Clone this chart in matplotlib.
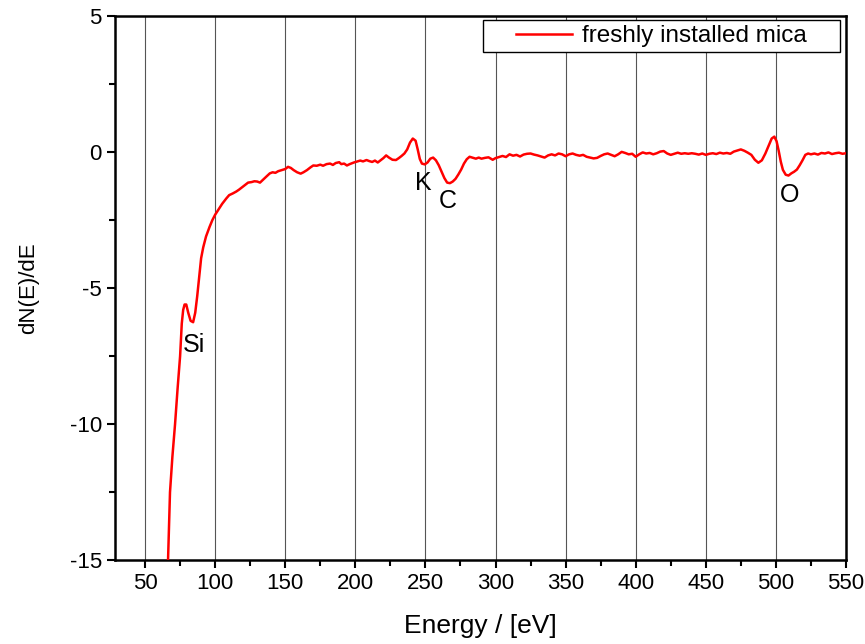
import matplotlib
matplotlib.use('Agg')
import matplotlib.pyplot as plt
from matplotlib.patches import Rectangle
from matplotlib.ticker import MultipleLocator

# spectrum (energy in eV, dN(E)/dE)
energy = [65, 66.4, 67.8, 69.5, 71.4, 73.2, 75, 76.2, 77.2, 78.2, 79.4, 80.8, 82.5, 84.3, 85.8,
          87.2, 88.6, 90.0, 91.5, 93.5, 96, 98, 100, 102.5, 105, 108, 110, 112.5, 115, 117,
          119, 121, 123.5, 126, 128, 130, 132, 134, 136.5, 139, 141, 143, 145, 147.5, 150,
          152, 154, 156, 158.5, 161, 163, 165.5, 168, 170, 172.5, 175, 177, 179.5, 182, 184,
          186, 188.5, 190, 192, 194, 196, 199, 201.5, 203.5, 205.5, 208, 210, 212, 214, 216,
          218, 220, 222, 224, 226.5, 229, 231, 233, 235, 237, 239, 241, 243, 244.5, 246,
          247.5, 249.5, 251.5, 253.5, 255.5, 257.5, 259.5, 261.5, 263.5, 265.5, 267.5, 269.5,
          271.5, 273.5, 275.5, 277.5, 279.5, 281.5, 283.5, 286, 288, 290, 292.5, 295, 298,
          300, 302.5, 305, 307.5, 310, 312.5, 315, 317.5, 320, 322.5, 325, 327.5, 330, 332.5,
          335, 337.5, 340, 342.5, 345, 347.5, 350, 352.5, 355, 357.5, 360, 362.5, 365, 367.5,
          370, 372.5, 375, 377.5, 380, 382.5, 385, 387.5, 390, 392.5, 395, 397.5, 400, 402.5,
          405, 407.5, 410, 412.5, 415, 417.5, 420, 422.5, 425, 427.5, 430, 432.5, 435, 437.5,
          440, 442.5, 445, 447.5, 450, 452.5, 455, 457.5, 460, 462.5, 465, 467.5, 470, 472.5,
          475, 477.5, 480, 482.5, 485, 487.5, 490, 492.5, 495, 497, 498.9, 500.5, 502, 503.5,
          505, 507, 509, 511, 513, 515, 517, 519, 521, 523, 525, 527.5, 530, 532.5, 535,
          537.5, 540, 542.5, 545, 547.5, 550]
dnde = [-15.6, -15.0, -12.5, -11.2, -10.0, -8.7, -7.5, -6.3, -5.8, -5.6, -5.6, -5.9, -6.2, -6.25, -5.9,
        -5.3, -4.6, -3.9, -3.5, -3.1, -2.75, -2.5, -2.3, -2.1, -1.9, -1.7, -1.58, -1.52, -1.45, -1.38,
        -1.30, -1.22, -1.12, -1.10, -1.07, -1.08, -1.12, -1.02, -0.90, -0.78, -0.74, -0.76, -0.70, -0.66, -0.62,
        -0.54, -0.58, -0.66, -0.74, -0.79, -0.74, -0.66, -0.56, -0.49, -0.50, -0.46, -0.50, -0.44, -0.42, -0.47,
        -0.40, -0.37, -0.44, -0.42, -0.49, -0.44, -0.38, -0.34, -0.31, -0.34, -0.29, -0.33, -0.36, -0.31, -0.38,
        -0.30, -0.22, -0.12, -0.20, -0.28, -0.29, -0.22, -0.14, -0.05, 0.10, 0.35, 0.50, 0.42, 0.10, -0.25,
        -0.42, -0.45, -0.38, -0.24, -0.20, -0.30, -0.48, -0.72, -0.95, -1.12, -1.14, -1.08,
        -0.98, -0.82, -0.64, -0.42, -0.26, -0.17, -0.20, -0.24, -0.20, -0.24, -0.21, -0.19, -0.28,
        -0.22, -0.18, -0.14, -0.18, -0.08, -0.13, -0.10, -0.16, -0.09, -0.06, -0.05, -0.09, -0.12, -0.16,
        -0.20, -0.12, -0.08, -0.12, -0.05, -0.08, -0.15, -0.08, -0.05, -0.10, -0.13, -0.10, -0.17, -0.20,
        -0.23, -0.21, -0.14, -0.08, -0.05, -0.10, -0.15, -0.08, 0.01, -0.03, -0.08, -0.06, -0.17, -0.08,
        -0.01, -0.05, -0.03, -0.08, -0.04, 0.02, 0.04, -0.05, -0.10, -0.06, -0.02, -0.06, -0.04, -0.06,
        -0.04, -0.06, -0.09, -0.05, -0.10, -0.06, -0.04, -0.07, -0.02, -0.05, -0.03, -0.06, 0.02, 0.06,
        0.10, 0.05, -0.02, -0.10, -0.28, -0.39, -0.30, -0.05, 0.25, 0.50, 0.57, 0.40, 0.05, -0.35,
        -0.65, -0.83, -0.86, -0.78, -0.72, -0.64, -0.48, -0.30, -0.10, -0.05, -0.08, -0.05, -0.09, -0.03, -0.05,
        -0.01, -0.07, -0.04, -0.02, -0.06, -0.04]

peak_labels = ['Si', 'K', 'C', 'O']
peak_x = [85, 248.3, 266.1, 510]
peak_y = [-7.1, -1.14, -1.8, -1.58]

plt.rcParams['font.family'] = ['Liberation Sans', 'DejaVu Sans']
plt.rcParams['axes.unicode_minus'] = False

fig = plt.figure(figsize=(8.65, 6.44), dpi=100)
ax = fig.add_axes([0.133, 0.130, 0.845, 0.845])

ax.plot(energy, dnde, color='#ff0000', lw=1.8, label='freshly installed mica', zorder=3)

for lab, x, y in zip(peak_labels, peak_x, peak_y):
    ax.text(x, y, lab, fontsize=18, ha='center', va='center')

ax.set_xlim(28.6, 550)
ax.set_ylim(-15, 5)
ax.xaxis.set_major_locator(MultipleLocator(50))
ax.xaxis.set_minor_locator(MultipleLocator(25))
ax.yaxis.set_major_locator(MultipleLocator(5))
ax.yaxis.set_minor_locator(MultipleLocator(2.5))
ax.set_xticks(range(50, 551, 50))

ax.grid(axis='x', which='major', color='#555555', lw=0.8)
for s in ax.spines.values():
    s.set_linewidth(1.8)
ax.tick_params(which='major', direction='out', length=6, width=1.5, labelsize=16)
ax.tick_params(which='minor', direction='out', length=4, width=1.5)

ax.set_xlabel('Energy / [eV]', fontsize=19, labelpad=14)
ax.set_ylabel('dN(E)/dE', fontsize=16, labelpad=22)

# legend box drawn separately so it gets the wide side padding of the original
box = Rectangle((0.503, 0.934), 0.489, 0.0585, transform=ax.transAxes,
                facecolor='white', edgecolor='black', lw=1.0, zorder=5)
ax.add_patch(box)
leg = ax.legend(loc='center', bbox_to_anchor=(0.7475, 0.9633), fontsize=17.5,
                handlelength=2.3, handletextpad=0.45, frameon=False,
                borderpad=0, borderaxespad=0)
leg.set_zorder(6)

fig.savefig('out.png', dpi=100)
